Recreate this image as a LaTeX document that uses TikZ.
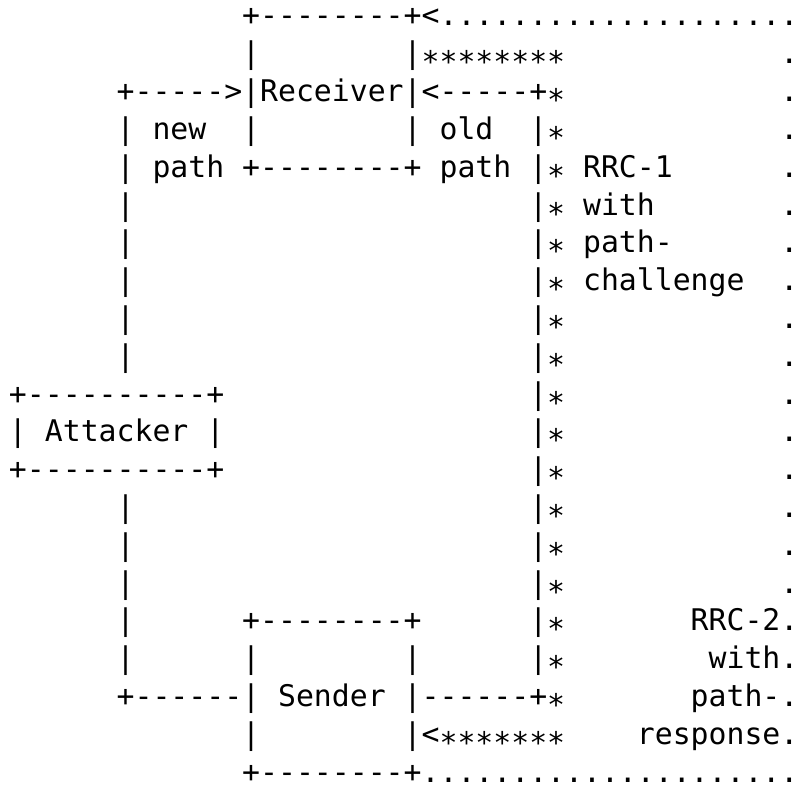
\documentclass[tikz,border=0pt]{standalone}
\usepackage{fontspec}
\setmonofont{DejaVu Sans Mono}
\newcommand{\st}{\makebox[17.94pt]{\raisebox{-9pt}{*}}}
\newcommand{\cell}[4]{\node[txt] (#1) at ({9pt+17.94pt*#2},{-26pt-37.8pt*#3}) {#4};}
\tikzset{txt/.style={anchor=base west, inner sep=0pt, outer sep=0pt, text depth=0pt, font=\ttfamily\fontsize{29.8pt}{36pt}\selectfont}}
\begin{document}
\begin{tikzpicture}
\fill[white] (0,0) rectangle (799pt,-786pt);
\useasboundingbox (0,0) rectangle (799pt,-786pt);
% row 0
\cell{r0a}{13}{0}{+--------+<....................}
% row 1
\cell{r1a}{13}{1}{|}
\cell{r1b}{22}{1}{|\st\st\st\st\st\st\st\st}
\cell{r1c}{43}{1}{.}
% row 2
\cell{r2a}{6}{2}{+----->|Receiver|<-----+\st}
\cell{r2b}{43}{2}{.}
% row 3
\cell{r3a}{6}{3}{|}
\cell{r3b}{8}{3}{new}
\cell{r3c}{13}{3}{|}
\cell{r3d}{22}{3}{|}
\cell{r3e}{24}{3}{old}
\cell{r3f}{29}{3}{|\st}
\cell{r3g}{43}{3}{.}
% row 4
\cell{r4a}{6}{4}{|}
\cell{r4b}{8}{4}{path}
\cell{r4c}{13}{4}{+--------+}
\cell{r4d}{24}{4}{path}
\cell{r4e}{29}{4}{|\st}
\cell{r4f}{32}{4}{RRC-1}
\cell{r4g}{43}{4}{.}
% rows 5-9
\cell{r5a}{6}{5}{|}\cell{r5b}{29}{5}{|\st}\cell{r5c}{32}{5}{with}\cell{r5d}{43}{5}{.}
\cell{r6a}{6}{6}{|}\cell{r6b}{29}{6}{|\st}\cell{r6c}{32}{6}{path-}\cell{r6d}{43}{6}{.}
\cell{r7a}{6}{7}{|}\cell{r7b}{29}{7}{|\st}\cell{r7c}{32}{7}{challenge}\cell{r7d}{43}{7}{.}
\cell{r8a}{6}{8}{|}\cell{r8b}{29}{8}{|\st}\cell{r8d}{43}{8}{.}
\cell{r9a}{6}{9}{|}\cell{r9b}{29}{9}{|\st}\cell{r9d}{43}{9}{.}
% attacker
\cell{r10a}{0}{10}{+----------+}\cell{r10b}{29}{10}{|\st}\cell{r10d}{43}{10}{.}
\cell{r11a}{0}{11}{|}\cell{r11e}{2}{11}{Attacker}\cell{r11f}{11}{11}{|}\cell{r11b}{29}{11}{|\st}\cell{r11d}{43}{11}{.}
\cell{r12a}{0}{12}{+----------+}\cell{r12b}{29}{12}{|\st}\cell{r12d}{43}{12}{.}
% rows 13-15
\cell{r13a}{6}{13}{|}\cell{r13b}{29}{13}{|\st}\cell{r13d}{43}{13}{.}
\cell{r14a}{6}{14}{|}\cell{r14b}{29}{14}{|\st}\cell{r14d}{43}{14}{.}
\cell{r15a}{6}{15}{|}\cell{r15b}{29}{15}{|\st}\cell{r15d}{43}{15}{.}
% sender
\cell{r16a}{6}{16}{|}\cell{r16c}{13}{16}{+--------+}\cell{r16b}{29}{16}{|\st}\cell{r16d}{38}{16}{RRC-2.}
\cell{r17a}{6}{17}{|}\cell{r17c}{13}{17}{|}\cell{r17e}{22}{17}{|}\cell{r17b}{29}{17}{|\st}\cell{r17d}{39}{17}{with.}
\cell{r18a}{6}{18}{+------|}\cell{r18c}{15}{18}{Sender}\cell{r18b}{22}{18}{|------+\st}\cell{r18d}{38}{18}{path-.}
\cell{r19a}{13}{19}{|}\cell{r19b}{22}{19}{|<\st\st\st\st\st\st\st}\cell{r19d}{35}{19}{response.}
\cell{r20a}{13}{20}{+--------+.....................}
\end{tikzpicture}
\end{document}
